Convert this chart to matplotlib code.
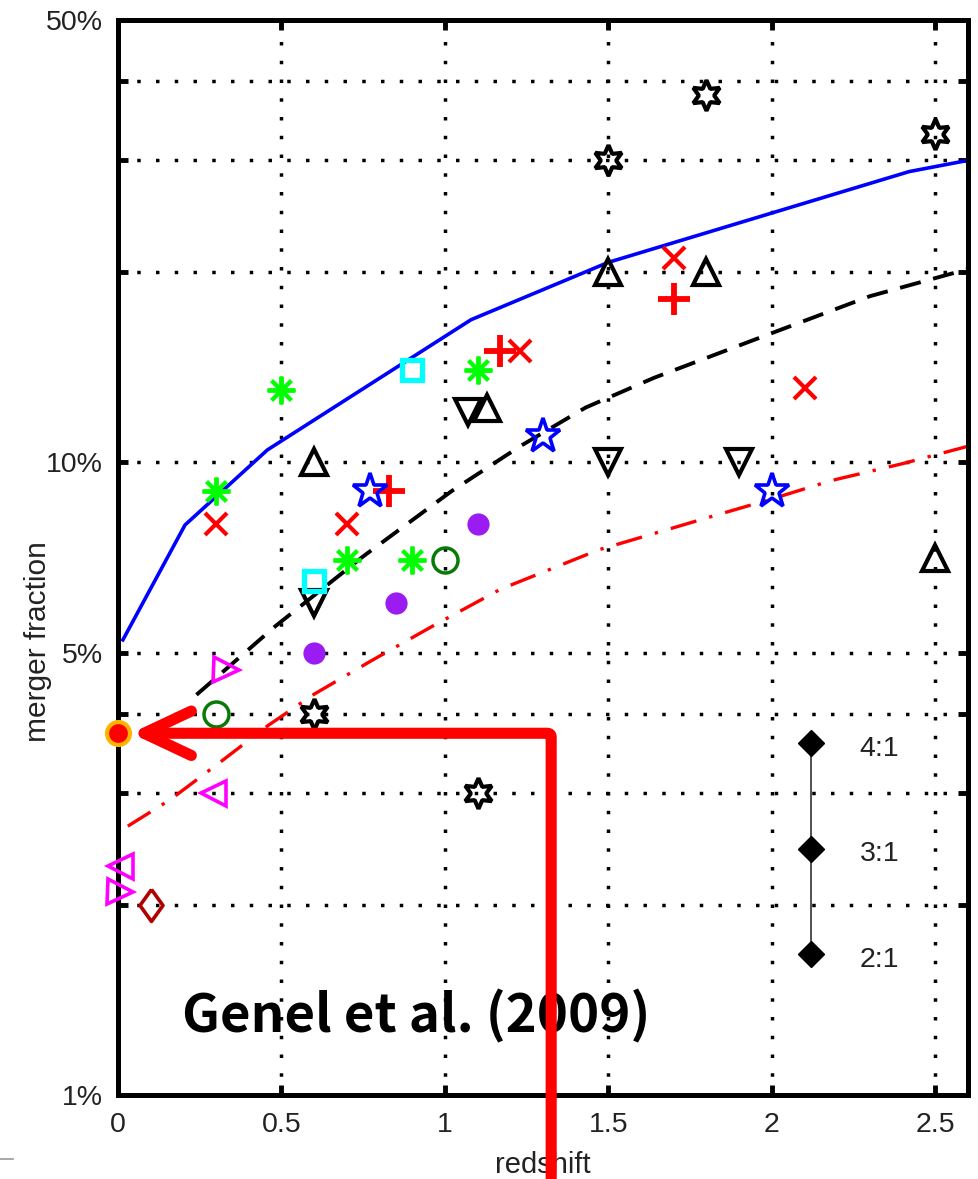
import matplotlib.pyplot as plt
from matplotlib.lines import Line2D
from matplotlib.ticker import FixedLocator, FixedFormatter, NullLocator

plt.rcParams['font.family'] = ['Liberation Sans', 'DejaVu Sans']

# model curves: redshift vs merger fraction (%)
blue_z = [0.015, 0.205, 0.457, 1.08, 1.5, 2.42, 2.6]
blue_f = [5.24, 7.96, 10.46, 16.8, 20.7, 28.8, 30.0]
dash_z = [0.24, 0.48, 0.75, 1.02, 1.23, 1.43, 1.64, 2.0, 2.3, 2.6]
dash_f = [4.29, 5.5, 7.1, 9.0, 10.6, 12.2, 13.6, 16.0, 18.3, 20.2]
dashdot_z = [0.03, 0.16, 0.31, 0.46, 0.6, 0.77, 0.96, 1.17, 1.47, 1.83, 2.0, 2.18, 2.4, 2.6]
dashdot_f = [2.66, 2.93, 3.35, 3.84, 4.3, 4.84, 5.5, 6.3, 7.27, 8.25, 8.75, 9.35, 9.95, 10.6]

# observations
asterisk_z = [0.3, 0.5, 0.7, 0.9, 1.1]
asterisk_f = [9.0, 13.0, 7.0, 7.0, 14.0]
cross_z = [0.3, 0.7, 1.23, 1.7, 2.1]
cross_f = [8.0, 8.0, 15.0, 21.0, 13.1]
plus_z = [0.83, 1.17, 1.7]
plus_f = [9.0, 15.0, 18.1]
pent_z = [0.77, 1.3, 2.0]
pent_f = [9.0, 11.0, 9.0]
hexa_z = [0.6, 1.1, 1.5, 1.8, 2.5]
hexa_f = [4.0, 3.0, 30.0, 38.0, 33.0]
up_z = [0.6, 1.13, 1.5, 1.8, 2.5]
up_f = [10.0, 12.2, 20.0, 20.0, 7.05]
down_z = [0.6, 1.07, 1.5, 1.9]
down_f = [6.0, 12.0, 10.0, 10.0]
square_z = [0.6, 0.9]
square_f = [6.5, 14.0]
dot_z = [0.6, 0.85, 1.1]
dot_f = [5.0, 6.0, 8.0]
circle_z = [0.3, 1.0]
circle_f = [4.0, 7.0]
right_z = [0.33, 0.005]
right_f = [4.7, 2.09]
left_z = [0.29, 0.005]
left_f = [3.0, 2.3]
diamond_z = [0.1]
diamond_f = [2.0]

# mass-ratio key
ratio_labels = ['4:1', '3:1', '2:1']
ratio_z = [2.12, 2.12, 2.12]
ratio_f = [3.6, 2.45, 1.67]

# highlighted value (Genel et al. 2009)
highlight_z = 0.0
highlight_f = 3.73
arrow_from_z = 1.325

xticks = [0, 0.5, 1, 1.5, 2, 2.5]
xlabels = ['0', '0.5', '1', '1.5', '2', '2.5']
yticks = [1, 2, 3, 4, 5, 10, 20, 30, 40, 50]
ylabels = ['1%', '', '', '', '5%', '10%', '', '', '', '50%']

fig = plt.figure(figsize=(9.79, 11.79), dpi=100)
ax = fig.add_axes([118 / 979, 84 / 1179, 850 / 979, 1075 / 1179])
ax.set_yscale('log')
ax.set_xlim(0, 2.6)
ax.set_ylim(1, 50)

ax.plot(blue_z, blue_f, color='#0000ff', lw=2.6)
ax.plot(dash_z, dash_f, color='k', lw=2.8, linestyle=(0, (5.5, 3.3)))
ax.plot(dashdot_z, dashdot_f, color='#ff0000', lw=2.4, linestyle=(0, (8, 4, 1, 4)))

mk = dict(linestyle='none', clip_on=False, zorder=5)
ax.plot(asterisk_z, asterisk_f, marker=(8, 2, 0), ms=20, mew=2.8, color='#00ff00', **mk)
ax.plot(cross_z, cross_f, marker='x', ms=16, mew=3.0, color='#ff0000', **mk)
ax.plot(plus_z, plus_f, marker='+', ms=23, mew=4.2, color='#ff0000', **mk)
ax.plot(pent_z, pent_f, marker='*', ms=26, mew=2.6, mfc='none', mec='#0000ff', **mk)
ax.plot(hexa_z, hexa_f, marker=(6, 1, 0), ms=22, mew=3.0, mfc='none', mec='k', **mk)
ax.plot(up_z, up_f, marker='^', ms=19, mew=3.0, mfc='none', mec='k', **mk)
ax.plot(down_z, down_f, marker='v', ms=19, mew=3.0, mfc='none', mec='k', **mk)
ax.plot(square_z, square_f, marker='s', ms=14, mew=3.8, mfc='none', mec='#00ffff', **mk)
ax.plot(dot_z, dot_f, marker='o', ms=16, mew=0, color='#9b1cf2', **mk)
ax.plot(circle_z, circle_f, marker='o', ms=18, mew=2.5, mfc='none', mec='#087a08', **mk)
ax.plot(right_z, right_f, marker='>', ms=18, mew=2.6, mfc='none', mec='#ff00ff', **mk)
ax.plot(left_z, left_f, marker='<', ms=18, mew=2.6, mfc='none', mec='#ff00ff', **mk)
ax.plot(diamond_z, diamond_f, marker=[(0, 1), (0.72, 0), (0, -1), (-0.72, 0), (0, 1)],
        ms=23, mew=2.6, mfc='none', mec='#b00000', **mk)

# ratio key
ax.plot(ratio_z, ratio_f, color='#333333', lw=1.2, marker='D', ms=13, mfc='k', mec='k')
for lbl, z, f in zip(ratio_labels, ratio_z, ratio_f):
    ax.annotate(lbl, (z, f), xytext=(35, -4), textcoords='offset points',
                ha='left', va='center', fontsize=20.5, color='#222222')

# axes styling
ax.xaxis.set_major_locator(FixedLocator(xticks))
ax.xaxis.set_major_formatter(FixedFormatter(xlabels))
ax.yaxis.set_major_locator(FixedLocator(yticks))
ax.yaxis.set_major_formatter(FixedFormatter(ylabels))
ax.yaxis.set_minor_locator(NullLocator())
ax.xaxis.set_minor_locator(NullLocator())
ax.tick_params(direction='in', length=7, width=3.5, top=True, right=True,
               labelsize=20.5, labelcolor='#222222')
ax.tick_params(axis='y', pad=11)
ax.tick_params(axis='x', pad=12)
for s in ax.spines.values():
    s.set_linewidth(3.6)
ax.set_axisbelow(True)
ax.grid(True, color='k', linestyle=(0, (1, 4.4)), linewidth=2.5)

ax.set_xlabel('redshift', fontsize=21, color='#222222')
ax.set_ylabel('merger fraction', fontsize=21.5, color='#222222')
ax.xaxis.set_label_coords(0.5, -0.052)
ax.yaxis.set_label_coords(-0.078, 0.422)

# callout
ax.text(0.3506, 0.0586, 'Genel et al. (2009)', transform=ax.transAxes,
        ha='center', va='baseline', fontsize=38, fontweight='bold',
        family=['Noto Sans CJK KR', 'DejaVu Sans'], color='k', zorder=6)
ax.annotate('', xy=(highlight_z + 0.04, highlight_f), xytext=(arrow_from_z, 0.7),
            annotation_clip=False, zorder=8,
            arrowprops=dict(arrowstyle='->, head_length=1.7, head_width=0.8',
                            connectionstyle='angle,angleA=90,angleB=0,rad=4',
                            color='#ff0000', lw=8, mutation_scale=20,
                            shrinkA=0, shrinkB=0, capstyle='round', joinstyle='round'))
ax.plot([highlight_z], [highlight_f], marker='o', ms=16.5, mew=3, mfc='#ff0000',
        mec='#ffb400', clip_on=False, zorder=9)

fig.add_artist(Line2D([0, 13 / 979], [20 / 1179, 20 / 1179], color='#999999', lw=1.2))

fig.savefig('out.png', dpi=100)
